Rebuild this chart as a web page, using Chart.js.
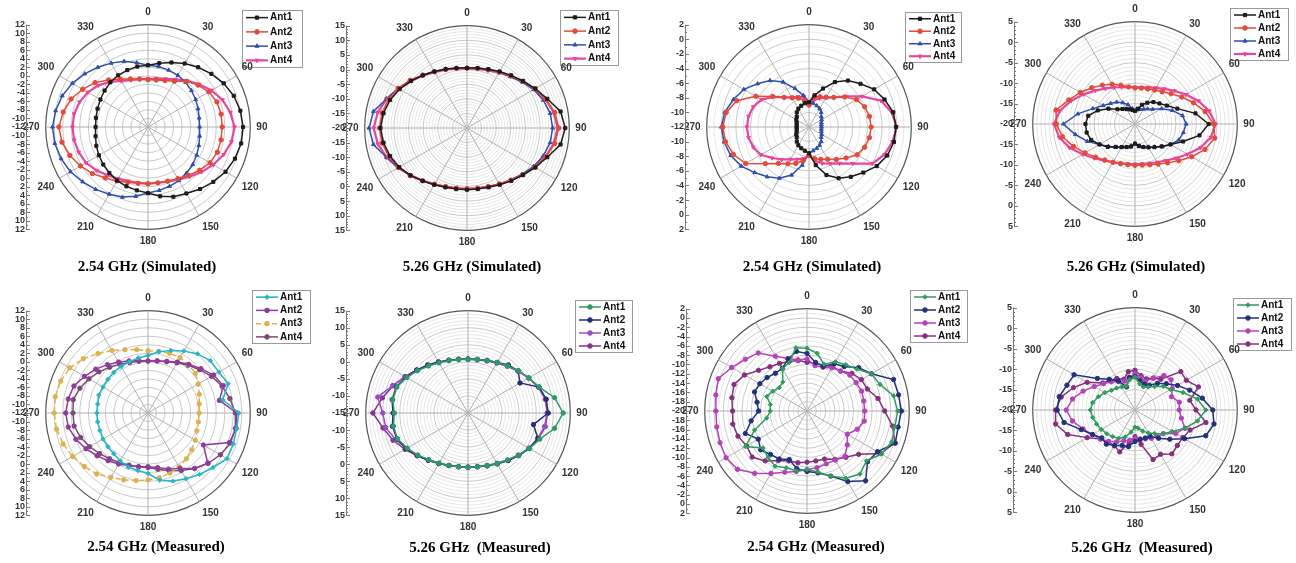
<!DOCTYPE html>
<html>
<head>
<meta charset="utf-8">
<script src="https://cdn.jsdelivr.net/npm/chart.js@4"></script>
<style>
  body { margin: 0; background: #fff; width: 1296px; height: 563px; position: relative; overflow: hidden; }
  canvas { position: absolute; }
  .cap { position: absolute; font: bold 15px "Liberation Serif", "Times New Roman", serif; color: #000;
         white-space: pre; transform: translateX(-50%); }
</style>
</head>
<body>
<canvas id="p1" width="326" height="262" style="left:0px;top:0px"></canvas>
<canvas id="p2" width="326" height="262" style="left:320px;top:0px"></canvas>
<canvas id="p3" width="326" height="262" style="left:650px;top:0px"></canvas>
<canvas id="p4" width="326" height="262" style="left:970px;top:0px"></canvas>
<canvas id="p5" width="326" height="262" style="left:0px;top:286px"></canvas>
<canvas id="p6" width="326" height="262" style="left:320px;top:286px"></canvas>
<canvas id="p7" width="326" height="262" style="left:650px;top:286px"></canvas>
<canvas id="p8" width="326" height="262" style="left:970px;top:286px"></canvas>

<div class="cap" style="left:147px;top:258px">2.54 GHz (Simulated)</div>
<div class="cap" style="left:472px;top:258px">5.26 GHz (Simulated)</div>
<div class="cap" style="left:812px;top:258px">2.54 GHz (Simulated)</div>
<div class="cap" style="left:1136px;top:258px">5.26 GHz (Simulated)</div>
<div class="cap" style="left:156px;top:538px">2.54 GHz (Measured)</div>
<div class="cap" style="left:480px;top:539px">5.26 GHz  (Measured)</div>
<div class="cap" style="left:816px;top:538px">2.54 GHz (Measured)</div>
<div class="cap" style="left:1142px;top:539px">5.26 GHz  (Measured)</div>

<script>
// angles every 10 degrees, 0 at top, clockwise
const angleLabels = ['0','10','20','30','40','50','60','70','80','90','100','110','120','130','140','150','160','170',
                     '180','190','200','210','220','230','240','250','260','270','280','290','300','310','320','330','340','350'];
const antNames = ['Ant1', 'Ant2', 'Ant3', 'Ant4'];

// radial rings (dB), center -> outer edge
const rings254sim  = [-12, -10, -8, -6, -4, -2, 0, 2, 4, 6, 8, 10, 12];
const rings526sim  = [-20, -15, -10, -5, 0, 5, 10, 15];
const rings254simB = [-12, -10, -8, -6, -4, -2, 0, 2];
const rings526simB = [-20, -15, -10, -5, 0, 5];
const rings254meas = [-12, -10, -8, -6, -4, -2, 0, 2, 4, 6, 8, 10, 12];
const rings526meas = [-15, -10, -5, 0, 5, 10, 15];
const rings254measB = [-20, -18, -16, -14, -12, -10, -8, -6, -4, -2, 0, 2];
const rings526measB = [-20, -15, -10, -5, 0, 5];

// 2.54 GHz simulated (left)
const sim254Ant1 = [2.5,3.2,4.1,5.2,6.3,7.4,8.5,9.4,10.0,10.3,10.2,9.7,9.0,8.0,7.0,6.0,5.4,4.5,3.5,3.1,2.8,2.5,2.1,1.7,1.3,0.9,0.5,0.3,0.4,0.6,0.9,1.3,1.7,2.0,2.2,2.4];
const sim254Ant2 = [-0.9,-0.8,-0.4,0.4,2.0,3.3,4.5,5.2,5.4,5.4,5.4,5.3,4.8,3.8,2.8,2.0,1.5,1.3,1.3,1.4,1.8,2.6,3.6,5.0,6.3,7.5,8.5,8.9,8.2,7.2,5.7,4.2,2.4,1.0,0.0,-0.6];
const sim254Ant3 = [2.5,2.4,2.2,2.0,1.7,1.3,0.9,0.5,0.2,0.1,0.3,0.7,1.2,1.7,2.1,2.5,2.8,3.1,3.5,4.5,5.5,6.2,7.1,8.0,9.0,9.7,10.2,10.4,10.0,9.4,8.5,7.4,6.3,5.3,4.4,3.3];
const sim254Ant4 = [-0.7,-0.5,0.0,0.9,2.2,3.6,5.2,6.6,7.6,8.3,7.9,6.9,5.7,4.4,3.2,2.3,1.6,1.3,1.3,1.3,1.5,2.0,2.8,3.8,4.8,5.3,5.6,5.7,5.6,5.1,4.3,3.2,1.8,0.5,-0.3,-0.6];

// 5.26 GHz simulated (left)
const sim526Ant1 = [0.5,0.8,1.4,2.3,3.5,5.0,7.0,9.2,12.5,13.6,12.5,9.2,7.0,5.0,3.6,2.4,1.6,1.2,1.1,1.2,1.6,2.4,3.6,5.2,6.8,8.0,9.0,9.6,9.0,8.0,6.6,5.0,3.5,2.3,1.4,0.8];
const sim526Ant2 = [0.5,0.7,1.2,2.1,3.3,4.9,6.8,8.7,10.5,11.4,10.5,8.7,6.8,4.9,3.3,2.1,1.3,0.9,0.8,0.9,1.3,2.2,3.6,5.4,7.0,8.5,9.5,9.9,9.5,8.6,7.2,5.4,3.6,2.2,1.3,0.7];
const sim526Ant3 = [0.5,0.8,1.3,2.0,3.0,4.5,6.3,7.8,8.9,9.3,8.9,7.8,6.3,4.6,3.2,2.2,1.5,1.1,1.0,1.1,1.5,2.4,3.7,5.3,7.2,9.3,12.5,13.5,12.5,9.3,7.2,5.3,3.7,2.4,1.5,0.8];
const sim526Ant4 = [0.3,0.5,1.0,1.9,3.1,4.7,6.7,8.6,10.2,11.0,10.2,8.6,6.7,4.8,3.3,2.2,1.3,0.9,0.8,0.9,1.3,2.2,3.5,5.2,7.2,9.3,11.0,11.9,11.0,9.2,7.0,5.0,3.4,2.1,1.2,0.6];

// 2.54 GHz simulated (right)
const sim254bAnt1 = [-8.6,-7.6,-6.4,-4.9,-3.7,-2.8,-1.7,-1.0,-0.3,-0.1,-0.2,-0.6,-1.3,-2.3,-3.1,-3.9,-5.0,-6.7,-8.4,-8.7,-8.9,-9.1,-9.4,-9.8,-10.0,-10.2,-10.3,-10.3,-10.3,-10.2,-10.0,-9.8,-9.4,-9.1,-8.9,-8.7];
const sim254bAnt2 = [-9.0,-7.8,-7.6,-7.3,-6.7,-5.6,-4.5,-3.9,-3.6,-3.5,-3.6,-3.9,-4.4,-5.4,-6.2,-6.9,-7.3,-7.6,-8.1,-7.3,-6.7,-6.2,-5.5,-4.2,-2.0,-1.0,-0.4,-0.2,-0.5,-1.5,-3.6,-5.5,-6.7,-7.4,-7.8,-8.3];
const sim254bAnt3 = [-8.6,-8.7,-8.9,-9.1,-9.4,-9.8,-10.0,-10.2,-10.3,-10.3,-10.3,-10.2,-10.0,-9.8,-9.4,-9.1,-8.9,-8.7,-8.4,-6.7,-5.0,-3.9,-3.1,-2.3,-1.3,-0.6,-0.2,0.0,-0.3,-1.0,-1.7,-2.8,-3.7,-4.9,-6.4,-7.6];
const sim254bAnt4 = [-9.0,-8.3,-7.8,-7.4,-6.7,-5.5,-3.6,-1.5,-0.5,0.0,-0.4,-1.0,-2.0,-4.2,-5.5,-6.2,-6.7,-7.3,-8.1,-7.6,-7.3,-6.9,-6.2,-5.4,-4.4,-3.9,-3.6,-3.5,-3.6,-3.9,-4.5,-5.6,-6.7,-7.3,-7.6,-7.8];

// 5.26 GHz simulated (right)
const sim526bAnt1 = [-16.8,-16.2,-15.0,-14.0,-13.0,-12.2,-11.0,-9.0,-5.0,-2.0,-4.0,-7.5,-10.0,-11.5,-12.6,-13.4,-14.0,-14.6,-15.2,-14.4,-14.0,-13.5,-12.7,-11.3,-10.0,-8.6,-8.0,-7.9,-8.4,-10.3,-12.5,-14.4,-15.2,-15.8,-16.2,-16.5];
const sim526bAnt2 = [-11.2,-11.1,-10.9,-10.4,-9.7,-8.5,-6.8,-4.8,-2.6,-0.8,-0.2,-1.8,-4.0,-6.0,-7.6,-8.7,-9.4,-9.8,-9.9,-9.9,-9.7,-9.2,-8.5,-7.4,-5.9,-4.0,-2.0,-0.8,-0.4,-2.8,-4.6,-6.2,-7.6,-8.8,-9.9,-10.8];
const sim526bAnt3 = [-16.8,-16.5,-16.2,-15.8,-15.2,-14.4,-12.5,-10.3,-8.2,-7.5,-8.0,-8.6,-10.0,-11.3,-12.7,-13.5,-14.0,-14.4,-15.2,-14.6,-14.0,-13.4,-12.6,-11.5,-10.0,-7.6,-5.2,-2.5,-5.8,-9.0,-11.0,-12.2,-13.0,-14.0,-15.0,-16.2];
const sim526bAnt4 = [-11.0,-10.9,-10.5,-9.8,-8.8,-7.4,-5.6,-3.5,-1.6,-0.3,-1.2,-3.0,-5.2,-7.0,-8.3,-9.2,-9.8,-10.1,-10.2,-10.1,-9.8,-9.2,-8.3,-7.0,-5.2,-3.0,-1.2,-0.2,-1.4,-3.4,-5.5,-7.3,-8.7,-9.7,-10.4,-10.8];

// 2.54 GHz measured (left)
const meas254Ant1 = [1.5,2.6,3.6,4.8,6.1,7.1,7.2,8.0,5.8,9.3,9.1,9.3,9.4,7.9,6.8,5.8,5.0,4.0,2.2,1.7,1.5,1.0,0.5,0.3,0.2,0.0,0.0,0.0,0.0,0.3,0.2,0.3,0.5,0.6,0.8,1.1];
const meas254Ant2 = [0.2,0.4,0.9,1.8,2.9,4.2,5.8,6.8,5.0,8.8,9.0,8.3,3.0,6.3,5.0,3.0,2.0,1.0,0.6,0.8,1.2,1.8,2.6,3.6,4.8,6.0,7.0,7.3,7.0,6.5,5.2,4.0,2.8,1.8,1.0,0.5];
const meas254Ant3 = [2.6,2.7,2.9,3.0,2.8,2.5,1.6,0.8,0.2,0.0,0.0,0.2,0.8,1.4,2.0,2.6,3.0,3.4,3.7,4.1,4.7,5.4,6.7,7.5,8.4,9.2,9.8,10.0,10.1,9.8,9.2,7.8,6.2,4.9,3.8,3.1];
const meas254Ant4 = [0.2,0.4,0.8,1.6,2.6,3.8,5.2,6.5,7.5,8.5,8.8,8.6,7.6,6.4,5.0,3.6,2.4,1.4,0.8,0.8,1.0,1.4,2.0,2.8,3.8,4.8,5.6,5.6,5.8,5.0,4.0,3.0,2.0,1.2,0.6,0.3];

// 5.26 GHz measured (left)
const meas526Ant1 = [0.8,0.9,1.4,2.1,3.0,4.3,5.6,7.2,10.8,12.9,10.8,7.4,5.8,4.3,3.0,2.1,1.4,1.0,0.9,1.0,1.4,2.0,2.9,4.2,5.6,7.0,7.2,6.6,7.4,7.2,5.8,4.3,3.0,2.0,1.3,0.9];
const meas526Ant2 = [0.8,0.9,1.4,2.1,3.4,4.2,2.6,7.2,8.3,8.5,4.5,6.8,5.8,4.4,3.2,2.2,1.5,1.0,0.9,1.0,1.4,2.1,3.1,4.4,5.9,7.2,7.5,7.0,7.6,7.4,6.0,4.6,3.4,2.3,1.5,1.0];
const meas526Ant3 = [0.7,0.8,1.2,1.9,2.9,4.1,5.5,7.0,8.0,8.2,7.8,6.8,5.6,4.2,3.0,2.0,1.3,0.9,0.8,0.9,1.3,2.0,3.0,4.3,5.8,7.6,9.5,10.0,11.9,8.5,6.3,4.6,3.2,2.1,1.3,0.9];
const meas526Ant4 = [0.9,1.0,1.4,2.1,3.0,4.2,5.6,7.1,8.1,8.4,8.0,7.0,5.8,4.4,3.2,2.2,1.5,1.0,0.9,1.0,1.4,2.1,3.1,4.5,6.3,8.4,10.3,12.9,10.5,8.4,6.3,4.6,3.2,2.2,1.4,1.0];

// 2.54 GHz measured (right)
const meas254bAnt1 = [-6.5,-7.4,-9.3,-7.8,-7.0,-6.0,-4.0,-3.3,-1.1,-0.5,-0.8,-0.6,-1.5,-3.3,-2.3,-3.3,-5.1,-6.7,-7.4,-6.9,-7.0,-6.3,-7.0,-7.6,-4.7,-8.0,-11.2,-12.1,-12.0,-10.8,-11.5,-12.2,-11.9,-9.5,-8.9,-6.2];
const meas254bAnt2 = [-7.6,-9.4,-9.8,-8.3,-7.5,-5.5,-4.0,-0.2,0.0,0.3,-0.1,0.2,-2.5,-3.0,-0.4,-2.5,-5.1,-6.5,-7.0,-7.4,-8.9,-8.1,-7.8,-7.0,-7.9,-5.9,-7.8,-9.6,-9.1,-8.0,-8.3,-8.8,-9.4,-9.4,-8.1,-7.0];
const meas254bAnt3 = [-8.8,-10.1,-10.0,-9.3,-8.8,-8.0,-7.8,-7.5,-7.6,-7.6,-7.5,-8.5,-10.0,-8.7,-7.3,-7.8,-7.9,-7.6,-7.4,-6.8,-6.0,-4.5,-2.5,-0.5,0.1,-0.1,-0.3,-0.4,-0.1,0.3,-1.3,-2.7,-3.7,-6.4,-8.0,-8.8];
const meas254bAnt4 = [-9.5,-9.6,-9.5,-9.0,-8.8,-7.4,-6.5,-6.2,-4.5,-3.3,-1.3,0.1,-1.7,-5.5,-7.0,-8.0,-9.0,-9.1,-9.0,-8.7,-8.6,-7.7,-6.0,-4.6,-5.0,-4.2,-3.8,-4.0,-3.6,-3.3,-4.5,-6.4,-7.6,-8.2,-8.7,-9.0];

// 5.26 GHz measured (right)
const meas526bAnt1 = [-12.0,-13.5,-14.0,-13.5,-12.5,-11.0,-10.0,-7.5,-4.5,-2.7,-4.5,-7.0,-9.5,-11.0,-12.5,-13.5,-14.5,-15.5,-15.8,-14.5,-13.0,-12.0,-11.5,-11.0,-10.5,-10.0,-9.5,-9.1,-9.5,-10.5,-11.5,-12.5,-13.0,-13.5,-13.8,-12.5];
const meas526bAnt2 = [-11.9,-12.8,-13.3,-13.0,-11.5,-10.0,-8.0,-5.8,-3.3,-1.0,-0.4,-1.6,-6.0,-8.9,-11.0,-12.6,-12.7,-12.7,-12.3,-10.9,-10.8,-10.0,-9.1,-9.4,-8.0,-6.0,-2.4,-1.0,-1.2,-2.3,-2.8,-8.0,-10.2,-11.8,-14.0,-11.9];
const meas526bAnt3 = [-11.0,-12.0,-12.5,-11.0,-9.0,-8.5,-9.5,-10.5,-9.0,-9.2,-8.5,-7.0,-8.5,-11.0,-11.5,-12.0,-12.5,-12.8,-13.0,-12.5,-12.0,-11.0,-10.0,-9.0,-8.0,-6.5,-4.5,-3.2,-4.5,-6.5,-8.5,-10.0,-11.0,-12.0,-12.5,-12.0];
const meas526bAnt4 = [-10.3,-11.5,-11.9,-11.0,-10.2,-5.4,-5.5,-3.5,-6.4,-5.1,-2.4,-5.7,-6.5,-6.5,-6.0,-7.5,-7.1,-11.5,-13.5,-11.8,-9.1,-9.9,-9.8,-9.0,-6.5,-2.5,-0.3,-0.6,-1.7,-4.0,-6.5,-9.7,-10.5,-11.1,-12.0,-10.5];

Chart.defaults.font.family = '"Liberation Sans", Arial, sans-serif';

// line / marker looks
const simLook = [
    {color: '#1c1c1c', style: 'rect', w: 1.5},
    {color: '#e04b3b', style: 'circle', w: 1.5},
    {color: '#2f4fab', style: 'triangle', w: 1.5},
    {color: '#e6479e', style: 'triangle', rot: 180, w: 2.2},
];
const meas254Look = [
    {color: '#29b5c6', style: 'rectRot', w: 1.6},
    {color: '#8e3b9c', style: 'circle', w: 1.5},
    {color: '#dcb24e', style: 'circle', w: 1.5, dash: [5, 3]},
    {color: '#7b4a78', style: 'circle', w: 1.5},
];
const meas526Look = [
    {color: '#2e9a68', style: 'circle', w: 1.5},
    {color: '#262e78', style: 'circle', w: 1.5},
    {color: '#9a4cc2', style: 'circle', w: 1.5},
    {color: '#84368a', style: 'circle', w: 1.5},
];
const measBLook = [
    {color: '#2f9d5c', style: 'rectRot', w: 1.5},
    {color: '#24317a', style: 'circle', w: 1.5},
    {color: '#b244b8', style: 'circle', w: 1.5},
    {color: '#85307f', style: 'circle', w: 1.5},
];

const panels = [
    {id: 'p1', ox: 0,   oy: 0,   cx: 148,  cy: 127, axisX: 26,   legend: [242, 10, 60, 57],  rings: rings254sim,  minor: 2, major: 2, series: [sim254Ant1, sim254Ant2, sim254Ant3, sim254Ant4], look: simLook},
    {id: 'p2', ox: 320, oy: 0,   cx: 467,  cy: 128, axisX: 346,  legend: [560, 10, 58, 55],  rings: rings526sim,  minor: 1, major: 5, series: [sim526Ant1, sim526Ant2, sim526Ant3, sim526Ant4], look: simLook},
    {id: 'p3', ox: 650, oy: 0,   cx: 809,  cy: 127, axisX: 685,  legend: [905, 12, 56, 50],  rings: rings254simB, minor: 1, major: 2, series: [sim254bAnt1, sim254bAnt2, sim254bAnt3, sim254bAnt4], look: simLook},
    {id: 'p4', ox: 970, oy: 0,   cx: 1135, cy: 124, axisX: 1014, legend: [1230, 8, 58, 52], rings: rings526simB, minor: 1, major: 5, series: [sim526bAnt1, sim526bAnt2, sim526bAnt3, sim526bAnt4], look: simLook},
    {id: 'p5', ox: 0,   oy: 286, cx: 148,  cy: 413, axisX: 26,   legend: [252, 290, 58, 53], rings: rings254meas, minor: 2, major: 2, series: [meas254Ant1, meas254Ant2, meas254Ant3, meas254Ant4], look: meas254Look},
    {id: 'p6', ox: 320, oy: 286, cx: 468,  cy: 413, axisX: 346,  legend: [575, 300, 57, 52], rings: rings526meas, minor: 1, major: 5, series: [meas526Ant1, meas526Ant2, meas526Ant3, meas526Ant4], look: meas526Look},
    {id: 'p7', ox: 650, oy: 286, cx: 807,  cy: 411, axisX: 686,  legend: [910, 290, 57, 52], rings: rings254measB, minor: 1, major: 2, series: [meas254bAnt1, meas254bAnt2, meas254bAnt3, meas254bAnt4], look: measBLook},
    {id: 'p8', ox: 970, oy: 286, cx: 1135, cy: 410, axisX: 1013, legend: [1233, 298, 58, 52], rings: rings526measB, minor: 1, major: 5, series: [meas526bAnt1, meas526bAnt2, meas526bAnt3, meas526bAnt4], look: measBLook},
];

function marker(ctx, style, x, y, r, rot) {
    if (Chart.helpers && Chart.helpers.drawPoint) {
        Chart.helpers.drawPoint(ctx, {pointStyle: style, radius: r, rotation: rot || 0, borderWidth: 1}, x, y);
    } else {
        ctx.beginPath();
        ctx.arc(x, y, r, 0, Math.PI * 2);
        ctx.fill();
    }
}

// boxed legend (under the angle labels) + left dB ruler
const polarExtras = {
    id: 'polarExtras',
    beforeDraw(chart, args, opts) {
        const ctx = chart.ctx;
        const [lx, ly, lw, lh] = opts.legend;
        ctx.save();
        ctx.fillStyle = '#fff';
        ctx.fillRect(lx, ly, lw, lh);
        ctx.strokeStyle = '#999';
        ctx.lineWidth = 1;
        ctx.strokeRect(lx + 0.5, ly + 0.5, lw, lh);
        const rowH = lh / chart.data.datasets.length;
        ctx.textAlign = 'left';
        ctx.textBaseline = 'middle';
        ctx.font = 'bold 10px "Liberation Sans", Arial, sans-serif';
        chart.data.datasets.forEach((ds, i) => {
            const y = ly + rowH * (i + 0.5) + 0.5;
            ctx.strokeStyle = ds.borderColor;
            ctx.fillStyle = ds.borderColor;
            ctx.lineWidth = ds.borderWidth;
            ctx.setLineDash(ds.borderDash || []);
            ctx.beginPath();
            ctx.moveTo(lx + 4, y);
            ctx.lineTo(lx + 26, y);
            ctx.stroke();
            ctx.setLineDash([]);
            ctx.lineWidth = 1;
            marker(ctx, ds.pointStyle, lx + 15, y, 2.3, ds.pointRotation);
            ctx.fillStyle = '#111';
            ctx.fillText(ds.label, lx + 28, y);
        });
        ctx.restore();
    },
    afterDraw(chart, args, opts) {
        const ctx = chart.ctx;
        const r = chart.scales.r;
        const x = opts.axisX;
        ctx.save();
        ctx.strokeStyle = '#777';
        ctx.lineWidth = 1;
        ctx.beginPath();
        ctx.moveTo(x + 0.5, r.yCenter - r.drawingArea);
        ctx.lineTo(x + 0.5, r.yCenter + r.drawingArea);
        for (let v = r.min; v <= r.max + 1e-6; v += 1) {
            const d = r.getDistanceFromCenterForValue(v);
            const len = opts.rings.includes(v) ? 4 : 2;
            for (const y of [r.yCenter - d, r.yCenter + d]) {
                ctx.moveTo(x, Math.round(y) + 0.5);
                ctx.lineTo(x + len, Math.round(y) + 0.5);
            }
        }
        ctx.stroke();

        ctx.fillStyle = '#333';
        ctx.font = 'bold 9px "Liberation Sans", Arial, sans-serif';
        ctx.textAlign = 'right';
        ctx.textBaseline = 'middle';
        opts.rings.forEach(v => {
            const d = r.getDistanceFromCenterForValue(v);
            ctx.fillText(String(v), x - 1, r.yCenter - d);
            if (d > 0) ctx.fillText(String(v), x - 1, r.yCenter + d);
        });
        ctx.restore();
    }
};

const HALF = 125;

panels.forEach(p => {
    const cv = document.getElementById(p.id);
    const W = cv.width, H = cv.height;
    const lx = p.cx - p.ox - 2, ly = p.cy - p.oy;
    const min = p.rings[0], max = p.rings[p.rings.length - 1];
    new Chart(cv, {
        type: 'radar',
        data: {
            labels: angleLabels,
            datasets: p.series.map((d, i) => ({
                label: antNames[i],
                data: d,
                borderColor: p.look[i].color,
                backgroundColor: p.look[i].color,
                pointBackgroundColor: p.look[i].color,
                pointBorderColor: p.look[i].color,
                pointStyle: p.look[i].style,
                pointRotation: p.look[i].rot || 0,
                pointRadius: 2.2,
                pointBorderWidth: 1,
                borderWidth: p.look[i].w,
                borderDash: p.look[i].dash || [],
                fill: false,
                tension: 0
            }))
        },
        options: {
            responsive: false,
            animation: false,
            devicePixelRatio: 1,
            layout: {
                padding: {left: lx - HALF, right: W - lx - HALF, top: ly - HALF, bottom: H - ly - HALF}
            },
            plugins: {
                legend: {display: false},
                tooltip: {enabled: false},
                polarExtras: {
                    axisX: p.axisX - p.ox,
                    rings: p.rings,
                    legend: [p.legend[0] - p.ox, p.legend[1] - p.oy, p.legend[2], p.legend[3]]
                }
            },
            scales: {
                r: {
                    min: min,
                    max: max,
                    ticks: {display: false, stepSize: p.minor},
                    grid: {
                        circular: true,
                        color: c => {
                            const v = c.tick.value;
                            if (Math.abs(v - max) < 1e-6) return '#555';
                            const k = (v - min) / p.major;
                            return Math.abs(k - Math.round(k)) < 1e-6 ? '#c8c8c8' : '#e6e6e6';
                        },
                        lineWidth: c => Math.abs(c.tick.value - max) < 1e-6 ? 1.2 : 1
                    },
                    angleLines: {
                        color: c => c.index % 3 === 0 ? '#b0b0b0' : 'rgba(0,0,0,0)'
                    },
                    pointLabels: {
                        padding: 6,
                        color: '#333',
                        font: {size: 10, weight: 'bold'},
                        callback: (label, index) => index % 3 === 0 ? label : ''
                    }
                }
            }
        },
        plugins: [polarExtras]
    });
});
</script>
</body>
</html>
